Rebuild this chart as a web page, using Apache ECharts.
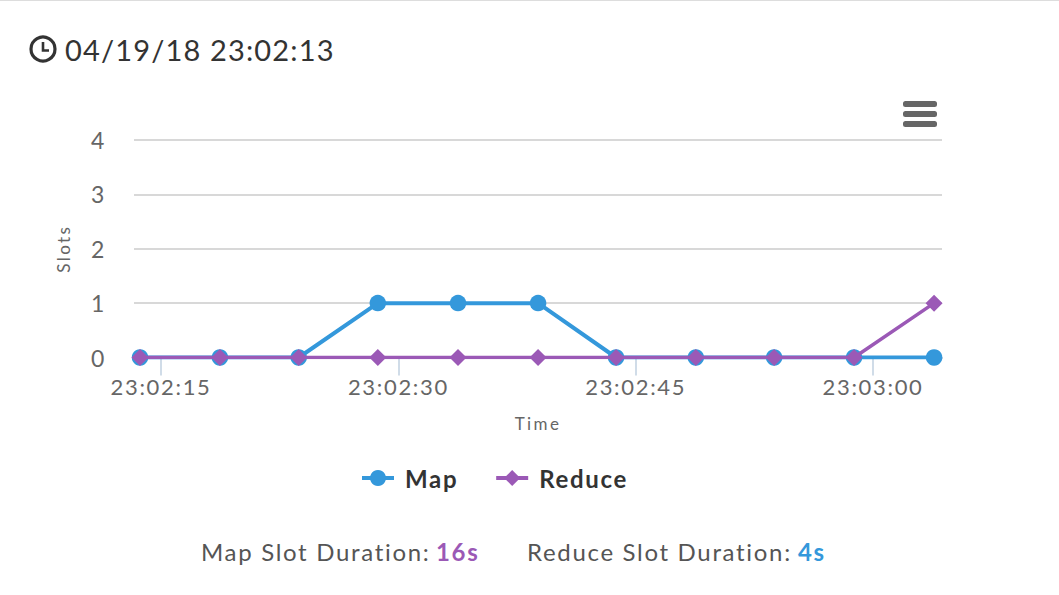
<!DOCTYPE html>
<html>
<head>
<meta charset="utf-8">
<title>Slots</title>
<style>
  html, body { margin: 0; padding: 0; background: #fff; }
  #content { width: 1059px; height: 595px; letter-spacing: 0.105em; }
  #content text[style*="29px"] { letter-spacing: 0.04em; }
  #content text[style*="17px"] { letter-spacing: 0.14em; }
</style>
<script src="https://cdn.jsdelivr.net/npm/echarts@6/dist/echarts.min.js"></script>
</head>
<body>
<div id="content"></div>
<script>
// values
var heading = "04/19/18 23:02:13";
var times = [
    "2018-04-19T23:02:13.67", "2018-04-19T23:02:18.72", "2018-04-19T23:02:23.70",
    "2018-04-19T23:02:28.70", "2018-04-19T23:02:33.77", "2018-04-19T23:02:38.83",
    "2018-04-19T23:02:43.76", "2018-04-19T23:02:48.80", "2018-04-19T23:02:53.75",
    "2018-04-19T23:02:58.80", "2018-04-19T23:03:03.86"
];
var mapSlots = [0, 0, 0, 1, 1, 1, 0, 0, 0, 0, 0];
var reduceSlots = [0, 0, 0, 0, 0, 0, 0, 0, 0, 0, 1];
var tickTimes = ["2018-04-19T23:02:15", "2018-04-19T23:02:30", "2018-04-19T23:02:45", "2018-04-19T23:03:00"];
var axisStart = "2018-04-19T23:02:13.29";
var axisEnd = "2018-04-19T23:03:04.36";
var mapDuration = "16s";
var reduceDuration = "4s";

var blue = "#3498db";
var purple = "#9b59b6";
var fontName = "Lato";

function ms(s) {
    return new Date(s).getTime();
}
function pad(n) {
    return (n < 10 ? "0" : "") + n;
}
function pairs(values) {
    return values.map(function(v, i) {
        return [ms(times[i]), v];
    });
}

var myChart = echarts.init(document.getElementById("content"), null, { renderer: "svg" });

myChart.setOption({
    animation: false,
    textStyle: { fontFamily: fontName },
    grid: { left: 134, right: 117, top: 140, height: 217.5 },
    legend: {
        left: 360,
        top: 466,
        padding: 0,
        itemWidth: 32,
        itemHeight: 20,
        itemGap: 41,
        selectedMode: false,
        lineStyle: { width: 4 },
        textStyle: { fontFamily: fontName, fontSize: 24, fontWeight: "bold", color: "#333", padding: [0, 0, 0, 6] },
        data: ["Map", "Reduce"],
    },
    xAxis: {
        // timestamps on a value axis, the ticks fall on the quarter minutes
        type: "value",
        min: ms(axisStart),
        max: ms(axisEnd),
        name: "Time",
        nameLocation: "middle",
        nameGap: 57,
        nameTextStyle: { fontFamily: fontName, fontSize: 17, color: "#666" },
        axisLine: { lineStyle: { color: "#c0d0e0", width: 2 } },
        axisTick: {
            show: true,
            length: 18,
            lineStyle: { color: "#c0d0e0", width: 1.5 },
            customValues: tickTimes.map(ms),
        },
        axisLabel: {
            fontFamily: fontName,
            fontSize: 22,
            color: "#666",
            margin: 18,
            customValues: tickTimes.map(ms),
            formatter: function(v) {
                var d = new Date(v);
                return pad(d.getHours()) + ":" + pad(d.getMinutes()) + ":" + pad(d.getSeconds());
            },
        },
        splitLine: { show: false },
    },
    yAxis: {
        type: "value",
        min: 0,
        max: 4,
        interval: 1,
        name: "Slots",
        nameLocation: "middle",
        nameGap: 62,
        nameTextStyle: { fontFamily: fontName, fontSize: 17, color: "#666" },
        axisLine: { show: false },
        axisTick: { show: false },
        axisLabel: { fontFamily: fontName, fontSize: 23, color: "#666", margin: 28, padding: [5, 0, 0, 0] },
        splitLine: { lineStyle: { color: "#d8d8d8", width: 2 } },
    },
    series: [{
        name: "Map",
        type: "line",
        data: pairs(mapSlots),
        symbol: "circle",
        symbolSize: 16.5,
        itemStyle: { color: blue },
        lineStyle: { color: blue, width: 4 },
        z: 2,
    }, {
        name: "Reduce",
        type: "line",
        data: pairs(reduceSlots),
        symbol: "diamond",
        symbolSize: 17,
        itemStyle: { color: purple },
        lineStyle: { color: purple, width: 3.5 },
        z: 3,
    }],
    graphic: [
        // top border
        { type: "rect", shape: { x: 0, y: 0, width: 1059, height: 1 }, style: { fill: "#ddd" } },
        // clock icon
        { type: "circle", shape: { cx: 43, cy: 49, r: 12 }, style: { fill: "none", stroke: "#333", lineWidth: 3.2 } },
        { type: "polyline", shape: { points: [[43, 42], [43, 50.5], [49, 50.5]] }, style: { fill: "none", stroke: "#333", lineWidth: 2.6 } },
        {
            type: "text", left: 65, top: 35,
            style: { text: heading, fontFamily: fontName, fontSize: 29, fill: "#333" },
        },
        // menu icon
        { type: "rect", shape: { x: 903, y: 101, width: 34, height: 6, r: 2.5 }, style: { fill: "#666" } },
        { type: "rect", shape: { x: 903, y: 111, width: 34, height: 6, r: 2.5 }, style: { fill: "#666" } },
        { type: "rect", shape: { x: 903, y: 121, width: 34, height: 6, r: 2.5 }, style: { fill: "#666" } },
        // durations
        {
            type: "text", left: 201, top: 539,
            style: { text: "Map Slot Duration:", fontFamily: fontName, fontSize: 24, fill: "#555" },
        },
        {
            type: "text", left: 436, top: 539,
            style: { text: mapDuration, fontFamily: fontName, fontSize: 24, fontWeight: "bold", fill: purple },
        },
        {
            type: "text", left: 527, top: 539,
            style: { text: "Reduce Slot Duration:", fontFamily: fontName, fontSize: 24, fill: "#555" },
        },
        {
            type: "text", left: 798, top: 539,
            style: { text: reduceDuration, fontFamily: fontName, fontSize: 24, fontWeight: "bold", fill: blue },
        },
    ],
});
</script>
</body>
</html>
